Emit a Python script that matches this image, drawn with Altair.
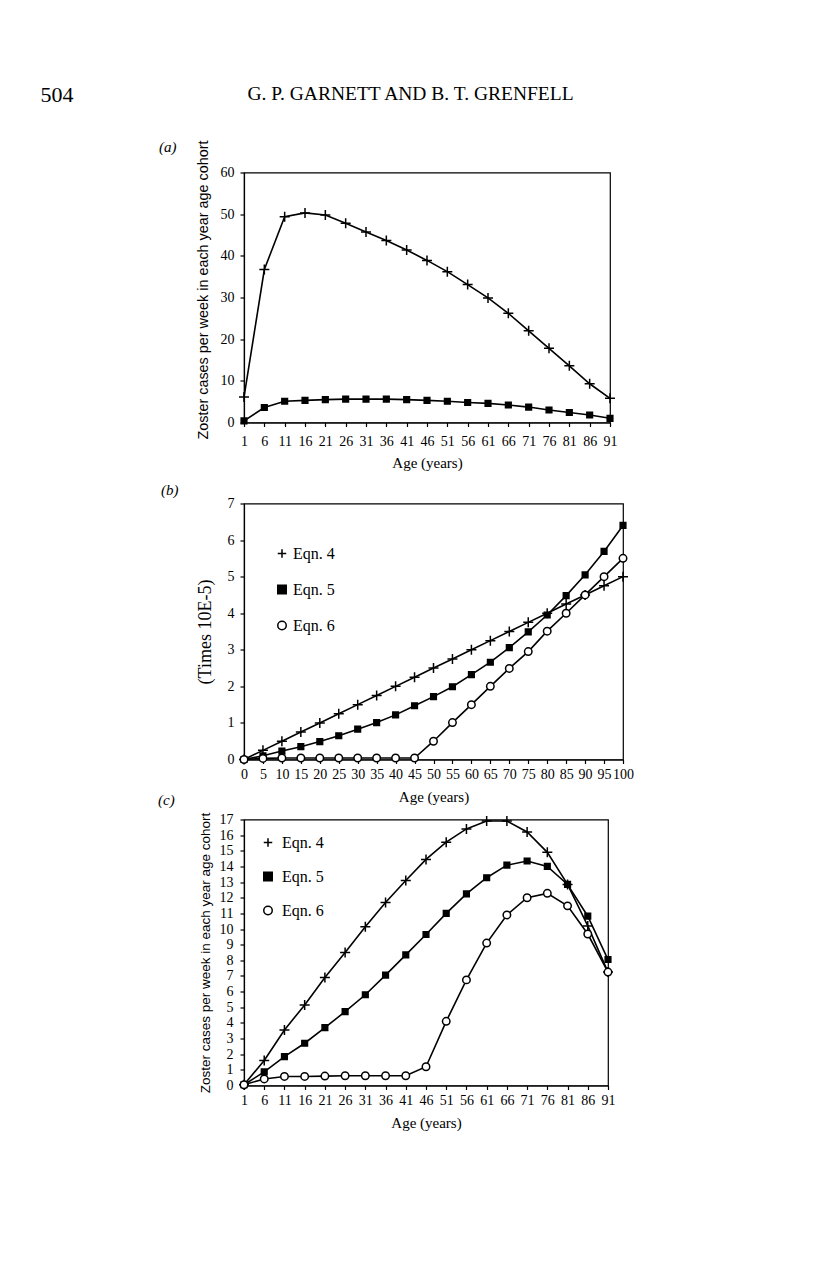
import altair as alt
import pandas as pd

# ---------------- header ----------------
page_number = "504"
authors = "G. P. GARNETT AND B. T. GRENFELL"

# ---------------- panel (a) ----------------
a_age = [1, 6, 11, 16, 21, 26, 31, 36, 41, 46, 51, 56, 61, 66, 71, 76, 81, 86, 91]
a_plus = [6.1, 36.7, 49.4, 50.3, 49.8, 47.8, 45.7, 43.7, 41.4, 38.9, 36.2, 33.1, 29.9, 26.2, 22.0, 17.8, 13.6, 9.3, 5.8]
a_square = [0.4, 3.6, 5.1, 5.3, 5.5, 5.6, 5.6, 5.6, 5.5, 5.3, 5.1, 4.8, 4.6, 4.2, 3.7, 3.0, 2.4, 1.8, 1.0]
a_yticks = [0, 10, 20, 30, 40, 50, 60]
a_names = ["Series 1", "Series 2"]

# ---------------- panel (b) ----------------
b_age = [0, 5, 10, 15, 20, 25, 30, 35, 40, 45, 50, 55, 60, 65, 70, 75, 80, 85, 90, 95, 100]
b_eqn4 = [0, 0.25, 0.5, 0.75, 1.0, 1.25, 1.5, 1.75, 2.0, 2.25, 2.5, 2.75, 3.0, 3.25, 3.5, 3.75, 4.0, 4.25, 4.5, 4.75, 5.0]
b_eqn5 = [0, 0.1, 0.23, 0.35, 0.49, 0.65, 0.83, 1.01, 1.22, 1.47, 1.72, 1.99, 2.32, 2.66, 3.06, 3.49, 3.95, 4.48, 5.05, 5.69, 6.4]
b_eqn6 = [0, 0.03, 0.04, 0.04, 0.04, 0.04, 0.04, 0.04, 0.04, 0.04, 0.5, 1.01, 1.5, 2.0, 2.49, 2.95, 3.51, 4.0, 4.5, 5.0, 5.5]
b_yticks = [0, 1, 2, 3, 4, 5, 6, 7]

# ---------------- panel (c) ----------------
c_age = [1, 6, 11, 16, 21, 26, 31, 36, 41, 46, 51, 56, 61, 66, 71, 76, 81, 86, 91]
c_eqn4 = [0.05, 1.6, 3.55, 5.15, 6.9, 8.5, 10.15, 11.7, 13.1, 14.45, 15.55, 16.4, 16.9, 16.9, 16.2, 14.9, 12.85, 10.2, 7.25]
c_eqn5 = [0.05, 0.87, 1.85, 2.7, 3.7, 4.72, 5.8, 7.05, 8.35, 9.65, 11.0, 12.25, 13.28, 14.08, 14.35, 14.0, 12.85, 10.82, 8.05]
c_eqn6 = [0.05, 0.42, 0.58, 0.58, 0.6, 0.62, 0.62, 0.62, 0.62, 1.2, 4.1, 6.75, 9.1, 10.9, 12.0, 12.28, 11.48, 9.68, 7.25]
c_yticks = list(range(0, 18))

eqn_names = ["Eqn. 4", "Eqn. 5", "Eqn. 6"]

SERIF = "Liberation Serif"
SANS = "Liberation Sans"
PLUS = "M-1,0L1,0M0,-1L0,1"
STYLE = {"plus": (PLUS, "black", 100), "square": ("square", "black", 32), "circle": ("circle", "white", 56)}


def long_df(x, series):
    rows = []
    for name, vals in series:
        for xi, v in zip(x, vals):
            rows.append({"age": xi, "value": v, "series": name})
    return pd.DataFrame(rows)


def panel(df, names, styles, xdomain, xticks, ydomain, yticks, width, height,
          label, label_dx, label_offset, ytitle, ytitle_font, ytitle_size,
          ylab_pad, ytitle_pad, xlab_pad, xtitle_pad, legend, ytitle_y=None):
    shapes = [STYLE[s][0] for s in styles]
    fills = [STYLE[s][1] for s in styles]
    x = alt.X("age:Q", scale=alt.Scale(domain=xdomain, nice=False, zero=False),
              axis=alt.Axis(values=xticks, title="Age (years)", labelOverlap=False,
                            labelFlush=False, labelPadding=xlab_pad, titlePadding=xtitle_pad,
                            tickSize=4, labelFontSize=14, titleFontSize=15, format="d"))
    yaxis_kw = dict(values=yticks, title=ytitle, titleFont=ytitle_font,
                    titleFontSize=ytitle_size, labelOverlap=False, labelFlush=False,
                    labelPadding=ylab_pad, titlePadding=ytitle_pad, tickSize=4,
                    labelFontSize=14, format="d")
    if ytitle_y is not None:
        yaxis_kw["titleY"] = ytitle_y
    y = alt.Y("value:Q", scale=alt.Scale(domain=ydomain, nice=False, zero=True),
              axis=alt.Axis(**yaxis_kw))
    line = alt.Chart(df).mark_line(color="black", strokeWidth=1.6).encode(
        x=x, y=y, detail="series:N", order="age:Q")
    size_enc = alt.when(alt.datum.series == names[0]).then(alt.value(STYLE[styles[0]][2]))
    for n, s in zip(names[1:-1], styles[1:-1]):
        size_enc = size_enc.when(alt.datum.series == n).then(alt.value(STYLE[s][2]))
    size_enc = size_enc.otherwise(alt.value(STYLE[styles[-1]][2]))
    pts = alt.Chart(df).mark_point(filled=False, strokeWidth=1.5, opacity=1).encode(
        x=x, y=y,
        shape=alt.Shape("series:N", scale=alt.Scale(domain=names, range=shapes), legend=legend),
        fill=alt.Fill("series:N", scale=alt.Scale(domain=names, range=fills), legend=legend),
        stroke=alt.Stroke("series:N", scale=alt.Scale(domain=names, range=["black"] * len(names)),
                          legend=legend),
        size=size_enc,
    )
    return alt.layer(line, pts).properties(
        width=width, height=height,
        title=alt.TitleParams(label, anchor="start", frame="group", dx=label_dx,
                              offset=label_offset, font=SERIF, fontSize=15,
                              fontStyle="italic", fontWeight="normal", color="black"))


def eqn_legend(lx, ly, row_pad, lab_off):
    return alt.Legend(orient="none", legendX=lx, legendY=ly, title=None, padding=0,
                      labelFont=SERIF, labelFontSize=16, labelColor="black",
                      symbolSize=72, symbolStrokeWidth=1.5,
                      rowPadding=row_pad, labelOffset=lab_off)


df_a = long_df(a_age, [(a_names[0], a_plus), (a_names[1], a_square)])
df_b = long_df(b_age, [(eqn_names[0], b_eqn4), (eqn_names[1], b_eqn5), (eqn_names[2], b_eqn6)])
df_c = long_df(c_age, [(eqn_names[0], c_eqn4), (eqn_names[1], c_eqn5), (eqn_names[2], c_eqn6)])

ytitle_cases = "Zoster cases per week in each year age cohort"

pa = panel(df_a, a_names, ["plus", "square"], [1, 91], a_age, [0, 60], a_yticks, 366, 250,
           "(a)", -85, -15, ytitle_cases, SANS, 14.4, 6, 10, 8, 6.6, None, ytitle_y=117)
pb = panel(df_b, eqn_names, ["plus", "square", "circle"], [0, 100], b_age, [0, 7], b_yticks, 379, 256,
           "(b)", -83, -1, "(Times 10E-5)", SERIF, 18, 6, 13, 4, 7.6,
           eqn_legend(30, 42, 20, 3))
pc = panel(df_c, eqn_names, ["plus", "square", "circle"], [1, 91], c_age, [0, 17], c_yticks, 364, 266,
           "(c)", -86, 4, ytitle_cases, SANS, 13.5, 7, 7, 4, 7.6,
           eqn_legend(16, 15, 18, 6))

RES = dict(shape="independent", fill="independent", stroke="independent")

top = alt.vconcat(pa, title=alt.TitleParams(
    authors, anchor="middle", frame="bounds", dx=22, offset=34.5, font=SERIF,
    fontSize=19.5, fontWeight="normal", color="black"))
inner = alt.vconcat(pb, pc, spacing=-13).resolve_scale(**RES).resolve_legend(**RES)

chart = alt.vconcat(top, inner, spacing=10).resolve_scale(**RES).resolve_legend(**RES).properties(
    title=alt.TitleParams(
        page_number, anchor="start", frame="bounds", dx=-117, offset=-23,
        font=SERIF, fontSize=22, fontWeight="normal", color="black"),
    padding={"left": 32, "top": 75.5, "right": 5, "bottom": 5},
).configure_view(stroke="black", strokeWidth=1.2).configure_axis(
    domainColor="black", tickColor="black", labelColor="black", titleColor="black",
    labelFont=SERIF, titleFont=SERIF, titleFontWeight="normal", grid=False,
    domainWidth=1.2, tickWidth=1.2,
)

chart.save("out.html", embed_options={"renderer": "svg", "actions": False})
